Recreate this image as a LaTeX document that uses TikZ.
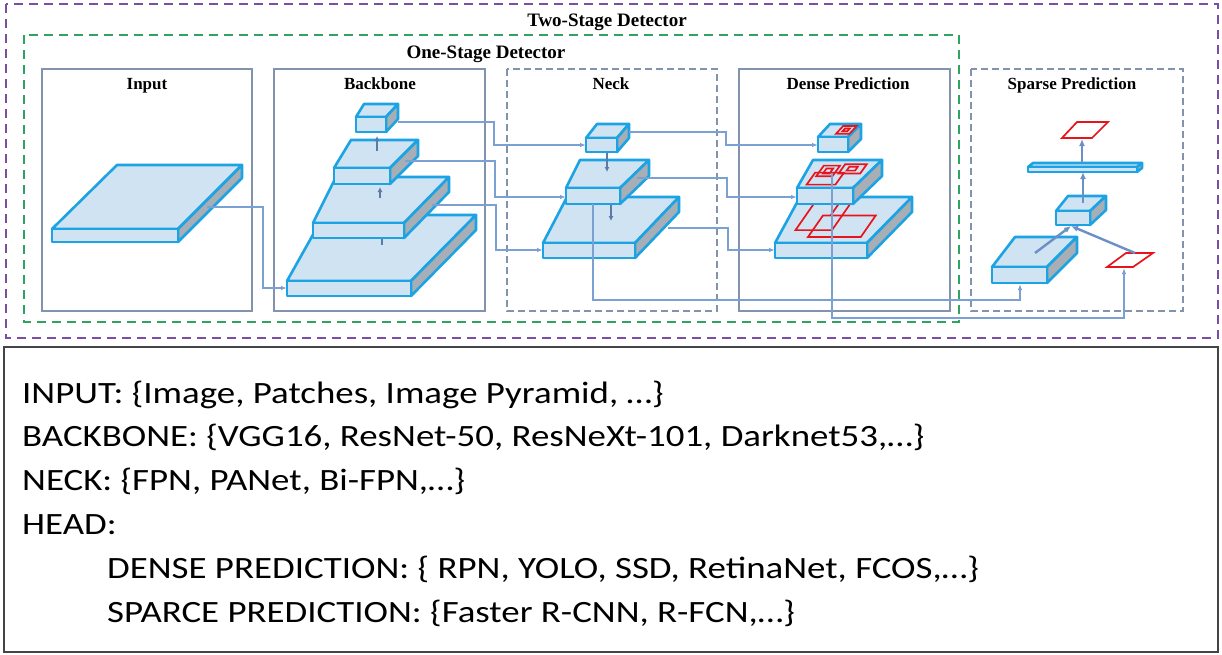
\documentclass[tikz,border=0pt]{standalone}
\usepackage{fontspec}
\setmainfont{Liberation Serif}
\newfontfamily\calfont[FakeStretch=1.19]{Carlito}
\usetikzlibrary{arrows.meta}
\definecolor{slabfill}{HTML}{CFE3F3}
\definecolor{slabgray}{HTML}{A7AEB5}
\definecolor{slabline}{HTML}{1CA3E3}
\definecolor{connc}{HTML}{7BA1D2}
\definecolor{arrc}{HTML}{6C90C6}
\definecolor{redc}{HTML}{E8141C}
\definecolor{boxc}{HTML}{8193AD}
\definecolor{purp}{HTML}{7A4FA3}
\definecolor{greenc}{HTML}{2FA35F}
\definecolor{lowbox}{HTML}{454545}
\newcommand{\slabbox}[7]{%
  \filldraw[slabtop] (#1,#3) -- (#2,#3) -- (#6,#7) -- (#5,#7) -- cycle;
  \filldraw[slabside] (#2,#3) -- (#6,#7) -- ({#6},{#7+#4}) -- ({#2},{#3+#4}) -- cycle;
  \filldraw[slabtop] (#1,#3) rectangle ({#2},{#3+#4});
}
\newcommand{\pgram}[4]{%
  \draw[redbox] (#1,#2) -- (#3,#2) -- (#3,#4) -- (#1,#4) -- cycle;
}
\tikzset{
  slabtop/.style={fill=slabfill, draw=slabline, line width=2.6pt, line join=round},
  slabside/.style={fill=slabgray, draw=slabline, line width=2.6pt, line join=round},
  conn/.style={draw=connc, line width=1.3pt, -{Latex[length=6pt,width=4.5pt]}},
  thickarr/.style={draw=arrc, line width=2.4pt, -{Latex[length=7pt,width=6pt]}},
  smallarr/.style={draw=arrc!85!black, line width=2pt, -{Latex[length=5pt,width=5pt]}},
  redbox/.style={draw=redc, line width=1.7pt, line join=miter},
  modbox/.style={draw=boxc, line width=1.4pt},
  modboxd/.style={draw=boxc, line width=1.4pt, dash pattern=on 7pt off 4pt},
  outertwo/.style={draw=purp, line width=2pt, dash pattern=on 9pt off 6pt},
  outerone/.style={draw=greenc, line width=2pt, dash pattern=on 9pt off 6pt},
  ttl/.style={font=\bfseries\fontsize{17}{20}\selectfont, anchor=base, inner sep=0pt},
  bigttl/.style={font=\bfseries\fontsize{19}{22}\selectfont, anchor=base, inner sep=0pt},
  body/.style={font=\calfont\fontsize{31}{36}\selectfont, anchor=base west, inner sep=0pt},
}
\begin{document}
\begin{tikzpicture}[x=1pt,y=-1pt]
\useasboundingbox (0,0) rectangle (1222,654);
\fill[white] (0,0) rectangle (1222,654);
% outer frames
\draw[outertwo] (6,4) rectangle (1218,338);
\draw[outerone] (24,35) rectangle (959,322);
\node[bigttl] (ttwo) at (607,26) {Two-Stage Detector};
\node[bigttl] (tone) at (486,58) {One-Stage Detector};
% module boxes
\draw[modbox] (42,69) rectangle (252,311);
\draw[modbox] (274,69) rectangle (485,311);
\draw[modboxd] (507,69) rectangle (717,311);
\draw[modbox] (739,69) rectangle (950,311);
\draw[modboxd] (971,69) rectangle (1183,311);
\node[ttl] (linput) at (147,89) {Input};
\node[ttl] (lbb) at (380,89) {Backbone};
\node[ttl] (lneck) at (611,89) {Neck};
\node[ttl] (ldense) at (848,89) {Dense Prediction};
\node[ttl] (lsparse) at (1072,89) {Sparse Prediction};
% coordinates for connectors
\coordinate (in-o) at (207,207);
\coordinate (bb4-i) at (287,288);
\coordinate (bb1-o) at (398,122);
\coordinate (bb2-o) at (405,161);
\coordinate (bb3-o) at (432,205);
\coordinate (n1-i) at (586,145);
\coordinate (n2-i) at (566,197);
\coordinate (n3-i) at (543,250);
\coordinate (n1-o) at (629,132);
\coordinate (n2-o) at (637,178);
\coordinate (n3-o) at (668,228);
\coordinate (n2-d) at (593,204);
\coordinate (d1-i) at (818,145);
\coordinate (d2-i) at (797,197);
\coordinate (d3-i) at (775,250);
\coordinate (d2-d) at (832,173);
\coordinate (s3-i) at (1020,284);
\coordinate (sr-i) at (1124,268);
\coordinate (s3-c) at (1035,253);
\coordinate (sc-b) at (1071,226);
\coordinate (sr-t) at (1135,253);
\coordinate (sc-t) at (1083,203);
\coordinate (fc-b) at (1083,172);
\coordinate (fc-t) at (1082,163);
\coordinate (rt-b) at (1082,139);
% input
\slabbox{52}{178}{229}{13}{117}{242}{165}
% backbone
\slabbox{287}{411}{281}{15}{324}{476}{215}
\draw[draw=arrc!85!black, line width=2pt] (382,238) -- (382,245);
\slabbox{313}{404}{223}{15}{336}{449}{177}
\draw[smallarr] (380,198) -- (380,187);
\slabbox{334}{390}{168}{16}{351}{418}{140}
\draw[smallarr] (377,151) -- (377,136);
\slabbox{356}{386}{117}{15}{364}{398}{104}
% neck
\slabbox{543}{635}{243}{15}{567}{679}{197}
\slabbox{566}{620}{188}{16}{580}{649}{160}
\slabbox{586}{617}{138}{14}{597}{629}{124}
\draw[smallarr] (607,153) -- (607,172);
\draw[smallarr] (611,205) -- (611,221);
% dense
\slabbox{775}{867}{243}{15}{800}{912}{197}
\begin{scope}[shift={(775,243)}, x={(96pt,0pt)}, y={(32pt,46pt)}]
  \pgram{0.12}{0.28}{0.5}{1.1}
  \pgram{0.3}{0.13}{0.85}{0.6}
  \draw[redbox] (0.38,0.6) -- (0.38,1.1);
\end{scope}
\slabbox{797}{853}{188}{16}{813}{882}{160}
\begin{scope}[shift={(797,188)}, x={(60pt,0pt)}, y={(20pt,28pt)}]
  \pgram{0.12}{0.12}{0.6}{0.55}
  \pgram{0.18}{0.42}{0.45}{0.8}
  \pgram{0.26}{0.52}{0.37}{0.7}
  \pgram{0.52}{0.52}{0.88}{0.85}
  \pgram{0.62}{0.62}{0.76}{0.76}
\end{scope}
\slabbox{818}{848}{137}{15}{830}{861}{124}
\begin{scope}[shift={(818,137)}, x={(30pt,0pt)}, y={(12pt,13pt)}]
  \pgram{0.5}{0.25}{0.95}{0.85}
  \pgram{0.64}{0.45}{0.8}{0.65}
\end{scope}
% sparse
\slabbox{992}{1047}{267}{16}{1015}{1077}{237}
\slabbox{1056}{1090}{211}{14}{1068}{1106}{196}
\slabbox{1028}{1137}{167}{5}{1033}{1142}{163}
\draw[redbox] (1062,138) -- (1092,138) -- (1108,122) -- (1077,122) -- cycle;
\draw[redbox] (1107,267) -- (1133,267) -- (1153,253) -- (1126,253) -- cycle;
\draw[thickarr] (s3-c) -- (sc-b);
\draw[thickarr] (sr-t) -- (sc-b);
\draw[thickarr] (sc-t) -- (fc-b);
\draw[thickarr] (fc-t) -- (rt-b);
% connectors
\draw[conn] (in-o) -- ++(56,0) |- (bb4-i);
\draw[conn] (bb1-o) -- ++(96,0) |- (n1-i);
\draw[conn] (bb2-o) -- ++(90,0) |- (n2-i);
\draw[conn] (bb3-o) -- ++(64,0) |- (n3-i);
\draw[conn] (n1-o) -- ++(97,0) |- (d1-i);
\draw[conn] (n2-o) -- ++(90,0) |- (d2-i);
\draw[conn] (n3-o) -- ++(60,0) |- (d3-i);
\draw[conn] (n2-d) -- ++(0,96) -| (s3-i);
\draw[conn] (d2-d) -- ++(0,145) -| (sr-i);
% lower text box
\draw[draw=lowbox, line width=2pt] (4,347) rectangle (1218,652);
\node[body] (t1) at (22,403) {INPUT: \{Image, Patches, Image Pyramid, …\}};
\node[body] (t2) at (22,446.8) {BACKBONE: \{VGG16, ResNet-50, ResNeXt-101, Darknet53,…\}};
\node[body] (t3) at (22,490.6) {NECK: \{FPN, PANet, Bi-FPN,…\}};
\node[body] (t4) at (22,534.4) {HEAD:};
\node[body] (t5) at (107,578.2) {DENSE PREDICTION: \{ RPN, YOLO, SSD, RetinaNet, FCOS,…\}};
\node[body] (t6) at (107,622) {SPARCE PREDICTION: \{Faster R-CNN, R-FCN,…\}};
\end{tikzpicture}
\end{document}
